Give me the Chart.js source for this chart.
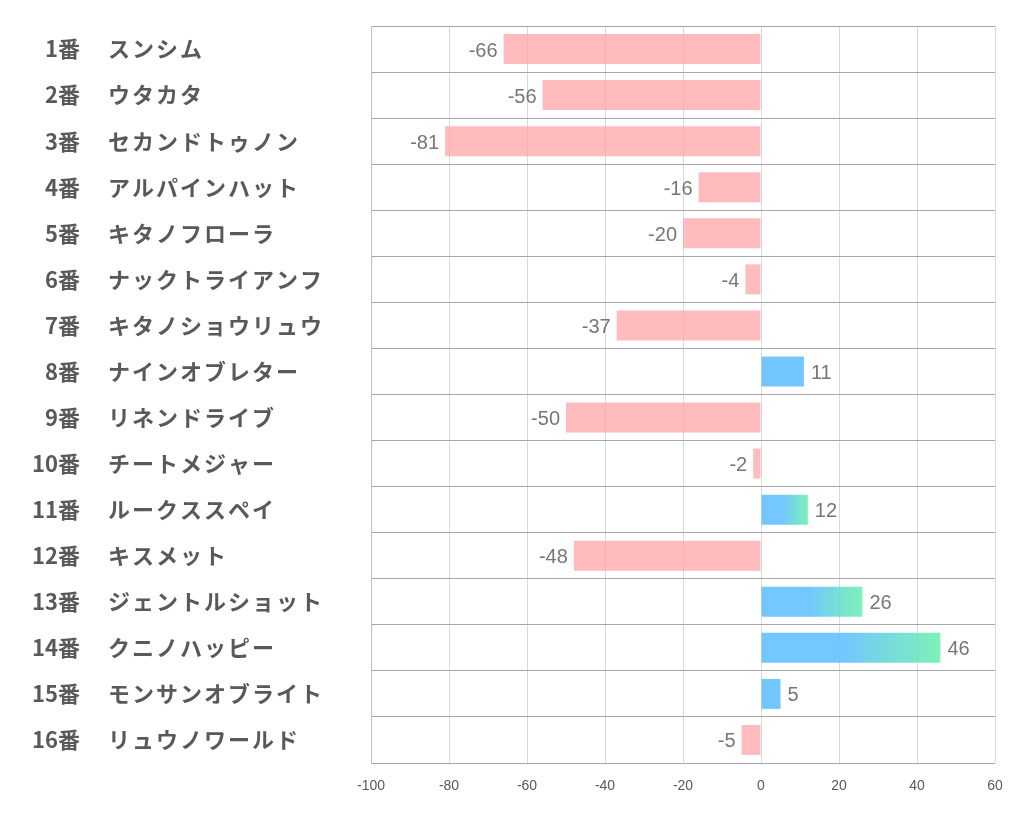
<!DOCTYPE html>
<html>
<head>
<meta charset="utf-8">
<script src="https://cdn.jsdelivr.net/npm/chart.js@4"></script>
<style>
  html, body { margin: 0; padding: 0; background: #fff; }
  #wrap { width: 1022px; height: 834px; }
</style>
</head>
<body>
<div id="wrap"><canvas id="horseChart" width="1022" height="834"></canvas></div>
<script>
// データ
const numbers = ['1番', '2番', '3番', '4番', '5番', '6番', '7番', '8番',
                 '9番', '10番', '11番', '12番', '13番', '14番', '15番', '16番'];
const horses = ['スンシム', 'ウタカタ', 'セカンドトゥノン', 'アルパインハット', 'キタノフローラ',
                'ナックトライアンフ', 'キタノショウリュウ', 'ナインオブレター', 'リネンドライブ',
                'チートメジャー', 'ルークススペイ', 'キスメット', 'ジェントルショット',
                'クニノハッピー', 'モンサンオブライト', 'リュウノワールド'];
const values = [-66, -56, -81, -16, -20, -4, -37, 11, -50, -2, 12, -48, 26, 46, 5, -5];
const xTicks = [-100, -80, -60, -40, -20, 0, 20, 40, 60];

const pink = 'rgba(255, 168, 172, 0.78)';
const blue = 'rgba(100, 192, 255, 0.9)';
const green = 'rgba(110, 240, 175, 0.9)';

// 馬名だけ字間を広げる
const labelSpacing = {
    id: 'labelSpacing',
    afterLayout(chart) {
        const s = chart.scales.y;
        if (s._spaced) return;
        const orig = s.drawLabels.bind(s);
        s.drawLabels = function(area) {
            const c = chart.ctx;
            c.letterSpacing = '2px';
            orig(area);
            c.letterSpacing = '0px';
        };
        s._spaced = true;
    }
};

// バーの横に数値を描く
const valueLabels = {
    id: 'valueLabels',
    afterDatasetsDraw(chart) {
        const c = chart.ctx;
        const meta = chart.getDatasetMeta(0);
        c.save();
        c.font = '20px "Liberation Sans", sans-serif';
        c.fillStyle = '#767676';
        c.textBaseline = 'middle';
        meta.data.forEach((bar, i) => {
            const v = values[i];
            if (v < 0) {
                c.textAlign = 'right';
                c.fillText(String(v), bar.x - 6, bar.y + 2);
            } else {
                c.textAlign = 'left';
                c.fillText(String(v), bar.x + 7, bar.y + 2);
            }
        });
        c.restore();
    }
};

function noPad(axis) {
    axis.paddingTop = 0;
    axis.paddingBottom = 0;
}

const ctx = document.getElementById('horseChart').getContext('2d');

const horseChart = new Chart(ctx, {
    type: 'bar',
    data: {
        labels: horses,
        datasets: [{
            data: values,
            backgroundColor: function(context) {
                const v = context.raw;
                if (v < 0) return pink;
                if (v < 12) return blue;
                const chart = context.chart;
                const xs = chart.scales.x;
                if (!xs || !chart.chartArea) return blue;
                const x0 = xs.getPixelForValue(0);
                const x1 = xs.getPixelForValue(v);
                const g = chart.ctx.createLinearGradient(x0, 0, x1, 0);
                g.addColorStop(0, blue);
                g.addColorStop(0.45, blue);
                g.addColorStop(1, green);
                return g;
            },
            borderWidth: 0,
            barPercentage: 0.65,
            categoryPercentage: 1
        }]
    },
    options: {
        indexAxis: 'y',
        responsive: false,
        animation: false,
        layout: {
            padding: { top: 26, right: 27, bottom: 0, left: 0 }
        },
        plugins: {
            legend: { display: false },
            tooltip: { enabled: false }
        },
        scales: {
            x: {
                min: -100,
                max: 60,
                afterBuildTicks: function(axis) {
                    axis.ticks = xTicks.map(v => ({ value: v }));
                },
                afterFit: function(axis) { axis.height = 71; },
                grid: {
                    color: '#d9d9d9',
                    drawTicks: false
                },
                border: { display: false },
                ticks: {
                    padding: 15,
                    color: '#595959',
                    font: { family: '"Liberation Sans Narrow", "Liberation Sans", sans-serif', size: 14 }
                }
            },
            y: {
                weight: 0,
                offset: true,
                afterFit: function(axis) { axis.width = 263; noPad(axis); },
                grid: {
                    offset: true,
                    color: '#a6a6a6',
                    drawTicks: false
                },
                border: { display: true, color: '#bfbfbf' },
                ticks: {
                    crossAlign: 'far',
                    color: '#595959',
                    font: { family: '"Noto Sans CJK JP", sans-serif', size: 22, weight: 'bold' }
                }
            },
            y2: {
                type: 'category',
                labels: numbers,
                position: 'left',
                weight: 1,
                offset: true,
                afterFit: function(axis) { axis.width = 108; noPad(axis); },
                grid: { display: false, drawTicks: false },
                border: { display: false },
                ticks: {
                    crossAlign: 'near',
                    padding: 28,
                    color: '#595959',
                    font: { family: '"Noto Sans CJK JP", sans-serif', size: 22, weight: 'bold' }
                }
            }
        }
    },
    plugins: [labelSpacing, valueLabels]
});
</script>
</body>
</html>
